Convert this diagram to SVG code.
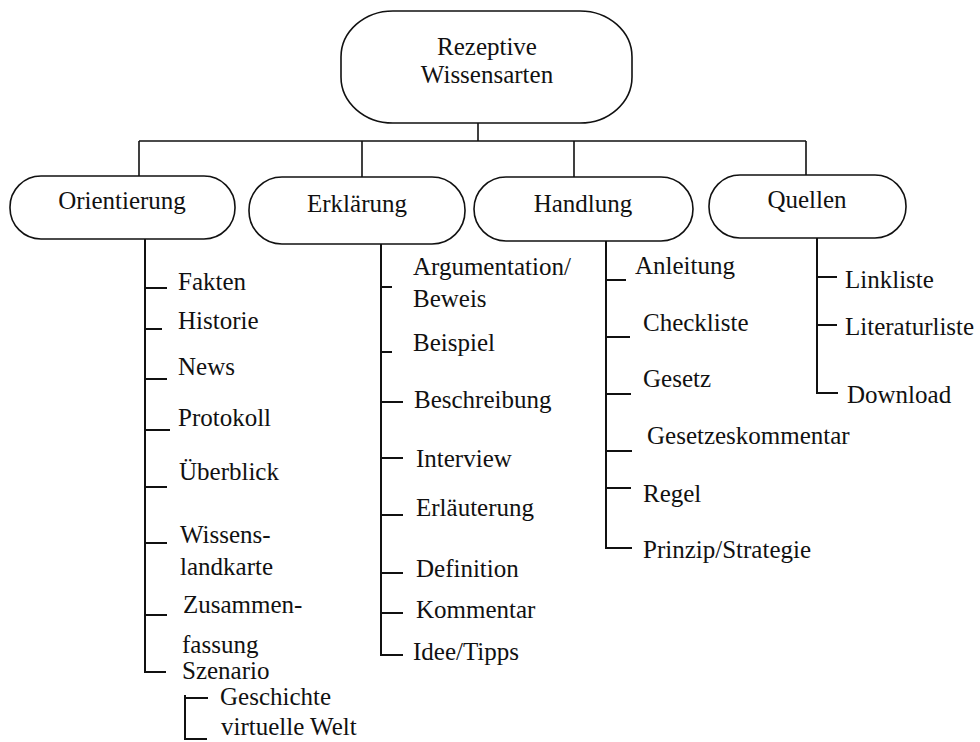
<svg xmlns="http://www.w3.org/2000/svg" width="980" height="742" viewBox="0 0 980 742" font-family="'Liberation Serif', 'Times New Roman', Times, 'DejaVu Serif', serif">
  <style>
    .node { fill: #fff; stroke: #111; stroke-width: 1.6; }
    text { font-family: 'Liberation Serif', 'Times New Roman', Times, serif; font-size: 25px; fill: #111; }
    .ttl { text-anchor: middle; }
    .wire { fill: none; stroke: #111; stroke-width: 1.6; }
    .tree { fill: none; stroke: #111; stroke-width: 2; }
  </style>
  <rect width="980" height="742" fill="#fff"/>

  <!-- connectors -->
  <g id="connectors">
    <path class="wire" d="M478 123 V141 M139 141 H806 M139 141 V176 M362 141 V177 M574 141 V177 M806 141 V175"/>
    <!-- Orientierung -->
    <path class="tree" d="M145 239 V672 H166 M145 288 H167 M145 329 H162 M145 379 H167 M145 430 H170 M145 487 H167 M145 543 H167 M145 615 H167"/>
    <path class="tree" d="M185 695 V739 H207 M185 698 H208"/>
    <!-- Erklärung -->
    <path class="tree" d="M381 244 V655 H403 M381 287 H392 M381 352 H392 M381 402 H403 M381 458 H403 M381 515 H403 M381 573 H403 M381 613 H403"/>
    <!-- Handlung -->
    <path class="tree" d="M606 241 V548 H632 M606 280 H626 M606 337 H630 M606 394 H631 M606 451 H632 M606 488 H631"/>
    <!-- Quellen -->
    <path class="tree" d="M817 238 V393 H838 M817 277 H837 M817 325 H837"/>
  </g>

  <g id="root">
    <rect class="node" x="341" y="11" width="291" height="112" rx="52" ry="46"/>
    <text class="ttl" x="487" y="55">Rezeptive</text>
    <text class="ttl" x="487" y="83">Wissensarten</text>
  </g>

  <g id="orientierung">
    <rect class="node" x="10" y="176" width="225" height="63" rx="31" ry="31"/>
    <text class="ttl" x="122" y="209">Orientierung</text>
  </g>
  <g id="erklaerung">
    <rect class="node" x="249" y="177" width="216" height="67" rx="33" ry="33"/>
    <text class="ttl" x="357" y="212">Erklärung</text>
  </g>
  <g id="handlung">
    <rect class="node" x="474" y="177" width="219" height="64" rx="32" ry="32"/>
    <text class="ttl" x="583" y="212">Handlung</text>
  </g>
  <g id="quellen">
    <rect class="node" x="709" y="175" width="197" height="63" rx="31" ry="31"/>
    <text class="ttl" x="807" y="208">Quellen</text>
  </g>

  <g id="orientierung-items">
    <text x="178" y="290">Fakten</text>
    <text x="178" y="329">Historie</text>
    <text x="178" y="375">News</text>
    <text x="178" y="426">Protokoll</text>
    <text x="179" y="480">Überblick</text>
    <text x="180" y="543">Wissens-</text>
    <text x="180" y="575">landkarte</text>
    <text x="183" y="613">Zusammen-</text>
    <text x="182" y="653">fassung</text>
    <text x="182" y="679">Szenario</text>
    <text x="220" y="705">Geschichte</text>
    <text x="221" y="735">virtuelle Welt</text>
  </g>

  <g id="erklaerung-items">
    <text x="413" y="275">Argumentation/</text>
    <text x="413" y="307">Beweis</text>
    <text x="413" y="351">Beispiel</text>
    <text x="414" y="408">Beschreibung</text>
    <text x="416" y="467">Interview</text>
    <text x="416" y="516">Erläuterung</text>
    <text x="416" y="577">Definition</text>
    <text x="416" y="618">Kommentar</text>
    <text x="413" y="660">Idee/Tipps</text>
  </g>

  <g id="handlung-items">
    <text x="635" y="274">Anleitung</text>
    <text x="643" y="331">Checkliste</text>
    <text x="643" y="387">Gesetz</text>
    <text x="647" y="444">Gesetzeskommentar</text>
    <text x="643" y="502">Regel</text>
    <text x="643" y="558">Prinzip/Strategie</text>
  </g>

  <g id="quellen-items">
    <text x="845" y="288">Linkliste</text>
    <text x="845" y="335">Literaturliste</text>
    <text x="847" y="403">Download</text>
  </g>
</svg>
